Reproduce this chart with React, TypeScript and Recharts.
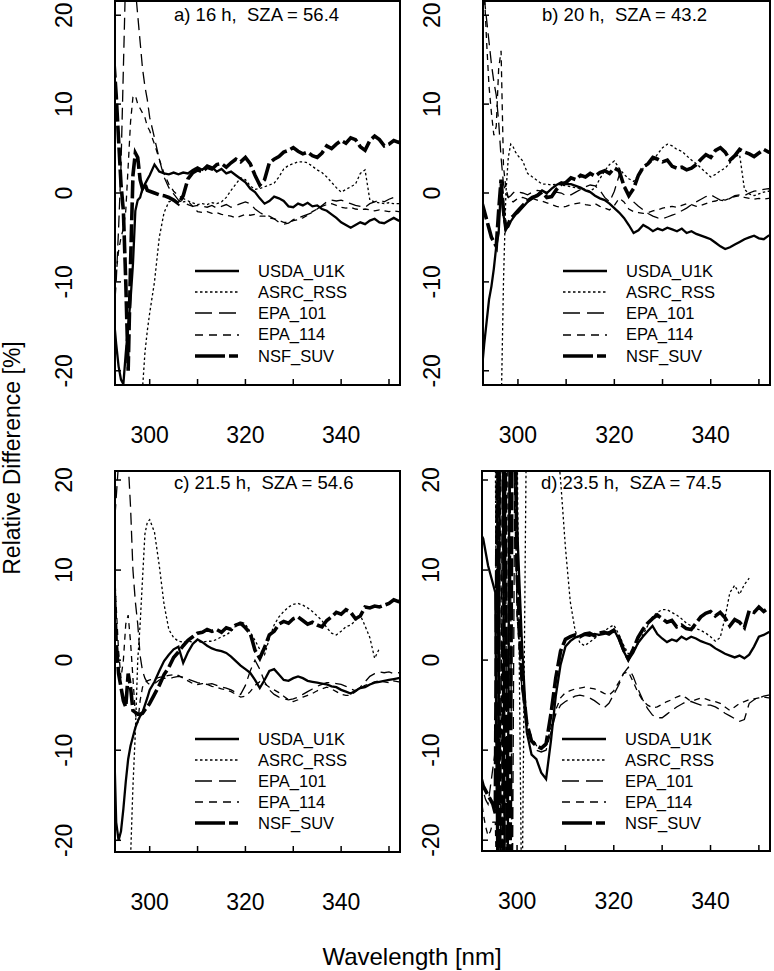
import React from "react";
import { LineChart, Line, XAxis, YAxis, ReferenceArea } from "recharts";

// wavelength grid [nm]
const wavelength = [
  292.5, 293, 293.5, 294, 294.5, 295, 295.5, 296, 296.5, 297, 297.5, 298, 298.5, 299, 299.5, 300,
  301, 302, 303, 304, 305, 306, 307, 308, 309, 310,
  311, 312, 313, 314, 315, 316, 317, 318, 319, 320,
  321, 322, 323, 324, 325, 326, 327, 328, 329, 330,
  331, 332, 333, 334, 335, 336, 337, 338, 339, 340,
  341, 342, 343, 344, 345, 346, 347, 348, 349, 350,
  351, 352, 353,
];

const xTicks = [300, 310, 320, 330, 340, 350];
const xLabels = [300, 320, 340];
const yTicks = [-20, -10, 0, 10, 20];

const seriesNames = ["USDA_U1K", "ASRC_RSS", "EPA_101", "EPA_114", "NSF_SUV"];

// a) 16 h
const aUsda = [
  -14, -17, -19.5, -21, -21.5, -18, -15, -12, -8, -2, -0.8, -0.5, 0.5, 1, 1.5, 2,
  3.2, 2.4, 2.2, 2.1, 2.3, 2.1, 2.3, 2.2, 2.6, 2.9,
  2.6, 3.1, 2.9, 2.4, 2.7, 2.2, 2.4, 2.0, 1.6, 1.2,
  0.5, 0.1, -0.6, -1.2, -0.9, -0.4, -0.6, -0.9, -1.5, -1.6,
  -1.2, -1.4, -1.1, -1.5, -1.4, -1.8, -2.0, -2.4, -2.8, -3.3,
  -3.6, -3.9, -3.6, -3.3, -3.5, -3.1, -2.9, -3.3, -3.4, -3.1,
  -2.8, -3.1, -3.2,
];
const aAsrc = [
  -40, -40, -40, -40, -40, -40, -40, -40, -40, -40, -40, -40, -22, -18, -15.5, -13.5,
  -10, -5, -2.2, -1, -0.8, -0.9, -1.0, -0.9, -1.1, -1.3,
  -1.2, -1.3, -1.1, -1.2, -1.0, -0.5, 0.3, 1.0, 1.7, 1.5,
  0.8, 0.4, 0.5, 0.7, 0.9, 1.1, 1.8, 2.7, 3.1, 3.3,
  3.5, 3.5, 3.4, 3.0, 2.6, 2.3, 1.8, 1.2, 0.6, 0.1,
  0.4, 0.7, 1.0, 2.2, 2.6, -0.8, -1.0, -1.1, -1.2, -1.1,
  -1.2, -1.2, -1.2,
];
const aEpa101 = [
  -14, -10, -4, 3, 14, 25, 30, 30, 28, 23, 20, 17, 14, 12, 10.5, 8.5,
  6.2, 3.8, 1.8, 0.6, -0.1, -0.8, -1.1, -1.3, -1.5, -1.4,
  -1.5, -1.6, -1.4, -1.7, -1.5, -1.3, -1.6, -1.4, -1.2, -1.0,
  -1.2, -1.8, -2.2, -2.5, -2.6, -2.9, -3.3, -3.5, -3.4, -3.0,
  -2.8, -2.6, -2.4, -2.2, -1.8, -1.4, -1.0, -0.8, -0.9, -0.8,
  -1.0, -1.2, -1.4, -1.5, -1.6, -1.2, -1.0, -0.8, -1.0, -0.7,
  -0.5, -0.6, -0.5,
];
const aEpa114 = [
  -12, -9, -6.5, -5, -4, -2, 3, 8, 10.8, 11, 10, 9.5, 9, 8.5, 7.5, 7,
  5.5, 3.8, 2.2, 1.0, 0.2, -0.3, -0.6, -0.9, -1.5, -2.1,
  -2.2, -2.1, -2.3, -2.2, -2.4, -2.5, -2.6, -2.8, -2.6, -2.4,
  -2.5, -2.4, -2.6, -2.6, -2.8, -2.9, -3.1, -3.3, -3.3, -3.1,
  -3.0, -2.8, -2.5, -2.1, -1.8, -1.5, -1.3, -1.2, -1.4, -1.6,
  -1.7, -1.6, -1.8, -1.9, -1.8, -1.9, -2.0, -1.9, -2.0, -2.1,
  -2.0, -2.1, -2.0,
];
const aNsf = [
  15, 11, 6, 1, -2, -10, -20, -8, 2, 4.5, 4, 1.5, 0.5, 1, 0.3, 0.2,
  0, -0.2, -0.3, -0.5, -0.8, -1.2, -0.3, 1.6, 2.3, 2.6,
  2.4, 2.9, 2.7, 3.2, 3.3, 2.9, 3.4, 3.8, 3.5, 4.0,
  3.3, 2.0, 0.9, 1.5, 3.4, 3.8, 4.1, 4.6, 4.8, 5.1,
  4.7, 4.4, 4.6, 4.2, 4.0, 4.5, 5.3, 5.0, 5.5, 5.9,
  5.6, 6.2, 6.0, 5.2, 4.8, 5.9, 6.4, 6.0, 5.3, 5.5,
  5.9, 5.7, 5.9,
];

// b) 20 h
const bUsda = [
  -20, -17, -14.5, -12, -10.5, -8.5, -6, -4.5, 1, -2.5, -4, -3.8, -3.2, -2.8, -2.4, -2.2,
  -1.6, -1.0, -0.6, -0.2, 0.3, 0.0, 0.5, 0.9, 1.2, 1.0,
  1.0, 0.8, 0.6, 0.3, 0.1, -0.3, -0.6, -0.8, -1.2, -1.7,
  -2.2, -2.8, -3.6, -4.5, -4.2, -3.6, -3.9, -4.3, -4.0, -4.2,
  -3.9, -4.1, -4.3, -4.0, -4.5, -4.3, -4.6, -4.8, -5.0, -5.2,
  -5.6, -6.0, -6.3, -6.1, -5.8, -5.5, -5.2, -5.0, -4.8, -5.1,
  -5.2, -4.8, -4.6,
];
const bAsrc = [
  -40, -40, -40, -40, -40, -40, -40, -40, -25, -10, 0, 4, 5.5, 5.2, 4.6, 4.2,
  3.6, 2.2, 1.8, 1.4, 1.0, 1.0, 0.9, 1.0, 0.9, 0.8,
  0.7, 0.6, 0.5, 0.4, 0.2, 0.6, 1.6, 2.5, 3.2, 3.6,
  2.8, 2.1, 1.6, 1.3, 2.0, 2.8, 3.2, 3.6, 4.4, 5.1,
  5.5, 5.3, 4.9, 4.7, 4.2, 3.7, 3.3, 2.8, 2.3, 1.8,
  2.1, 2.5, 2.8, 3.4, 4.1, 4.3, 0.4, -0.1, -0.3, -0.1,
  0.1, 0.2, 0.1,
];
const bEpa101 = [
  24, 22, 19.5, 17, 14.5, 12.5, 11, 8, 4, 1, 0, -0.5, -0.3, 0, 0.2, 0.1,
  0.0, -0.2, 0.1, 0.3, 0.2, -0.1, -0.2, 0.1, 0.0, -0.3,
  -0.2, 0.1, 0.4, 0.7, 0.9, 0.8, 0.3, -0.5, -1.0, 0.2,
  2.0, 1.0, -0.3, -1.0, -1.5, -1.9, -2.3, -2.6, -2.8, -2.9,
  -2.7, -2.5, -2.3, -2.0, -1.7, -1.3, -1.0, -0.7, -0.4, -0.2,
  -0.5, -0.8, -0.9, -0.6, -0.3, -0.2, -0.3, 0.0, 0.2, 0.3,
  0.4, 0.5, 0.4,
];
const bEpa114 = [
  28, 23, 17, 12, 9, 6.5, 7.5, 14, 16, 3, 0.5, -0.5, -0.8, -1.0, -0.8, -0.6,
  -0.5, -0.7, -0.6, -0.8, -0.9, -1.1, -1.3, -1.5, -1.6, -1.5,
  -1.3, -1.2, -1.1, -1.3, -1.4, -1.2, -1.5, -1.7, -1.9, -1.4,
  -0.6, -1.0, -1.8, -2.1, -2.2, -2.3, -2.2, -2.0, -1.9, -1.7,
  -1.6, -1.5, -1.6, -1.4, -1.2, -1.3, -1.5, -1.4, -1.2, -1.0,
  -0.9, -0.7, -0.8, -0.6, -0.4, -0.3, -0.5, -0.6, -0.7, -0.6,
  -0.7, -0.6, -0.6,
];
const bNsf = [
  -1, -2, -3, -4, -5, -5.5, -6, -2, 1.5, -2, -4, -3.5, -2.8, -2.6, -2.3, -2.0,
  -1.4, -0.9, -0.5, -0.3, 0.1, -0.5, -0.4, 0.4, 1.0, 1.2,
  1.7, 1.5, 2.0, 1.8, 2.2, 1.9, 2.3, 2.5, 2.2, 2.8,
  2.5, 0.8, -0.3, 0.5, 2.0, 2.9, 3.3, 4.0, 3.8, 3.5,
  3.7, 3.0, 2.8, 2.9, 2.6, 2.8, 3.2, 3.8, 4.3, 4.0,
  4.8, 5.1, 4.6, 3.7, 4.2, 4.9, 4.6, 4.4, 4.1, 4.5,
  4.9, 4.6, 4.5,
];

// c) 21.5 h
const cUsda = [
  -8, -18, -20, -19, -16.5, -13.5, -11, -9.5, -8.5, -7.5, -6.8, -6.2, -5.8, -5.0, -4.2, -3.3,
  -2.4, -1.2, -0.1, 0.6, 1.2, 1.5, -0.3, 0.9, 1.8, 2.3,
  2.0, 1.6, 1.3, 1.1, 1.0, 0.8, 0.4, -0.1, -0.6, -1.0,
  -1.4, -2.2, -3.1, -2.2, -1.2, -1.0, -1.6, -2.2, -2.3, -2.0,
  -1.8, -2.0, -2.3, -2.4, -2.5, -2.6, -2.7, -2.9, -3.0, -3.3,
  -3.5, -3.7, -3.4, -3.1, -3.0, -2.7, -2.5, -2.4, -2.3, -2.2,
  -2.1, -2.0, -2.0,
];
const cAsrc = [
  -40, -40, -40, -40, -40, -40, -40, -22, -14, -8, 0, 4, 9, 14, 15.3, 15.6,
  14.2, 10.5, 6.2, 3.4, 2.5, 2.1, 2.0, 2.1, 2.0, 2.1,
  2.0, 2.1, 2.1, 2.3, 2.6, 2.8, 3.2, 3.8, 4.3, 4.0,
  3.1, 2.2, 1.2, 0.6, 2.4, 3.9, 4.8, 5.4, 5.9, 6.2,
  6.3, 6.1, 5.8, 5.4, 4.9, 4.4, 3.6, 3.0, 2.8, 3.2,
  3.7, 3.9, 4.4, 5.0, 3.8, 2.5, 0.2, 1.3, null, null,
  null, null, null,
];
const cEpa101 = [
  14, 18, 22, 25, 25, 24, 22, 17, 10, 6.5, 4, 0.5, -1.2, -2.0, -2.5, -2.7,
  -2.6, -2.2, -2.0, -2.1, -1.9, -1.8, -1.9, -2.1, -2.3, -2.5,
  -2.6, -2.7, -2.6, -2.8, -3.0, -3.1, -3.3, -3.6, -3.8, -2.8,
  -1.2, 0.0, -1.0, -2.4, -3.3, -3.8, -4.1, -4.3, -4.4, -4.3,
  -4.1, -3.8, -3.5, -3.2, -2.9, -2.7, -2.5, -2.5, -2.6, -2.7,
  -2.9, -3.2, -3.4, -3.0, -2.4, -1.8, -1.5, -1.3, -1.4, -1.3,
  -1.5, -1.4, -1.3,
];
const cEpa114 = [
  12, 6, 1, -2, 0, 4, 5, 2, -2, -6, -7, -4.5, -3, -2.5, -2.3, -2.2,
  -2.1, -1.9, -1.8, -1.7, -1.6, -1.7, -2.0, -2.3, -2.6, -2.7,
  -2.6, -2.7, -2.9, -3.0, -3.2, -3.3, -3.5, -3.8, -4.1, -4.0,
  -3.5, -2.8, -2.4, -2.6, -3.0, -3.3, -3.6, -4.0, -4.4, -4.6,
  -4.4, -4.1, -3.9, -3.7, -3.4, -3.2, -3.0, -3.2, -3.5, -3.8,
  -3.9, -3.9, -3.5, -3.1, -2.8, -2.6, -2.4, -2.3, -2.4, -2.5,
  -2.3, -2.4, -2.3,
];
const cNsf = [
  9, 2, -1.5, -3, -4.5, -5.2, -1.5, -3, -5.6, -5.8, -6, -6, -5.9, -5.5, -5.2, -4.8,
  -3.8, -2.8, -1.6, -0.8, 0.3, 0.9, 1.6, 2.2, 2.6, 3.0,
  3.1, 3.4, 3.2, 3.4, 3.1, 3.6, 3.4, 3.9, 4.1, 3.6,
  3.0, 1.1, 0.2, 1.4, 2.8, 3.2, 4.0, 4.3, 4.1, 4.6,
  4.8, 4.4, 4.0, 4.2, 3.9, 3.7, 4.4, 4.8, 5.3, 5.1,
  5.6, 5.3, 4.6, 4.9, 5.9, 5.8, 6.0, 5.9, 6.1, 6.3,
  6.7, 6.5, 6.7,
];

// d) 23.5 h
const dUsda = [
  14, 13.5, 12, 10.5, 9.5, 8.5, 7.5, -30, 30, 30, -30, -30, 30, 30, 30, 15,
  2, -8, -10.5, -11, -12.5, -13.2, -9, -4, -0.5, 1.5,
  2.1, 2.5, 2.7, 2.8, 2.7, 2.9, 2.8, 2.9, 3.1, 3.4,
  2.4, 1.0, 0.0, 0.8, 1.9, 2.6, 3.2, 3.8, 2.9, 2.4,
  2.0, 2.3, 2.1, 2.6, 2.3, 2.6, 2.4, 2.1, 1.9, 1.7,
  1.3, 1.0, 0.7, 0.5, 0.3, 0.5, 0.2, 0.6, 1.5, 2.6,
  2.8, 3.1, 3.3,
];
const dAsrc = [
  25, 25, 25, 25, 25, 25, 25, -30, 25, 25, -30, -30, 25, 25, 25, 25,
  -30, 30, 30, 30, 30, 30, 30, 26, 20, 12.5,
  6.5, 3.3, 1.9, 1.6, 2.0, 2.4, 2.8, 3.2, 3.6, 3.9,
  2.9, 1.7, 0.7, 0.8, 1.8, 2.8, 3.8, 4.8, 5.3, 5.6,
  5.6, 5.3, 5.0, 4.6, 4.1, 3.8, 3.5, 3.3, 3.0, 2.6,
  2.1, 2.5, 4.7, 7.5, 8.3, 7.3, 8.4, 9.1, null, null,
  null, null, null,
];
const dEpa101 = [
  -13, -14.5, -15.5, -16, -14, -12, -10, 30, -30, 30, 30, -30, 30, -30, 20, 5,
  -3, -7.5, -9, -10, -10.2, -10, -8, -6, -5, -4.6,
  -4.3, -4.0, -3.9, -4.0, -4.2, -4.5, -4.9, -5.3, -4.8, -3.8,
  -2.8, -1.5, -0.8, -1.8, -3.2, -4.4, -5.4, -6.1, -6.4, -6.4,
  -6.0, -5.6, -5.2, -4.9, -4.6, -4.6, -4.8, -5.0, -5.0, -5.0,
  -5.2, -5.5, -5.9, -6.2, -6.5, -6.8, -6.6, -4.8, -4.4, -4.2,
  -4.0, -3.9, -3.8,
];
const dEpa114 = [
  -15, -17, -18.5, -19.5, -19, -18, -18, -30, 30, -30, 30, 30, -30, 30, 25, 5,
  -3, -7, -8.5, -9.5, -9.8, -9.5, -7.5, -5.5, -4.2, -3.6,
  -3.4, -3.2, -3.1, -3.0, -3.1, -3.2, -3.4, -3.7, -3.9, -3.4,
  -2.5, -1.5, -1.3, -2.4, -3.6, -4.5, -5.0, -5.3, -5.2, -4.9,
  -4.6, -4.4, -4.1, -3.9, -4.2, -4.6, -4.4, -4.2, -4.3, -4.5,
  -4.6, -4.8, -5.2, -5.6, -5.2, -4.8, -4.6, -4.4, -4.3, -4.2,
  -4.1, -4.2, -4.1,
];
const dNsf = [
  -13, -14, -14.5, -15, -15.5, -16, -17, 30, -30, -30, 30, -30, -30, 30, 30, 10,
  -2, -7, -9, -9.5, -9.8, -9.3, -6, -2, 1, 2.3,
  2.6, 2.8, 2.6, 2.9, 3.0, 2.7, 3.0, 3.1, 2.9, 3.3,
  2.6, 1.2, 0.1, 1.2, 2.5, 3.4, 4.1, 4.6, 5.0, 4.6,
  4.2, 4.4, 3.7, 3.9, 3.5, 3.4, 4.1, 4.8, 5.2, 5.4,
  4.9, 5.3, 4.7, 3.8, 4.5, 4.2, 3.6, 5.5, 5.3, 5.9,
  5.4, 5.8, 5.9,
];

const FONT = "'Liberation Sans', Arial, Helvetica, sans-serif";
const YW = 70; // y axis strip width
const MT = 20;
const MR = 4;
const XH = 65;

// line looks per instrument (order matches seriesNames)
const keys = ["usda", "asrc", "epa101", "epa114", "nsf"];
const widths = [2.3, 1.3, 1.3, 1.3, 3.6];
const dashes = [undefined, "2.5 2.5", "12 6", "6 5", "18 4"];
const legendDashes = [undefined, "2.5 2.5", "17 7", "8 6", "30 4 9"];

interface PanelProps {
  title: string;
  left: number;
  top: number;
  w: number;
  h: number;
  yDomain: [number, number];
  titleY: number;
  legendY: number[];
  series: (number | null)[][];
}

const xDomain: [number, number] = [292.75, 352.3];

function Panel({ title, left, top, w, h, yDomain, titleY, legendY, series }: PanelProps) {
  const rows = wavelength.map((wl, i) => {
    const r: Record<string, number | null> = { wl };
    keys.forEach((k, j) => (r[k] = series[j][i]));
    return r;
  });
  const plotBottom = MT + h;

  const YTick = (p: any) => {
    const cx = YW - 51;
    return (
      <g>
        <line x1={YW} x2={YW + 6} y1={p.y} y2={p.y} stroke="#000" strokeWidth={1.5} />
        <text
          x={cx}
          y={p.y}
          transform={`rotate(-90 ${cx} ${p.y})`}
          textAnchor="middle"
          dominantBaseline="central"
          fontSize={23}
          fontFamily={FONT}
          fill="#000"
        >
          {p.payload.value}
        </text>
      </g>
    );
  };

  const XTick = (p: any) => (
    <g>
      <line x1={p.x} x2={p.x} y1={plotBottom} y2={plotBottom - 6} stroke="#000" strokeWidth={1.5} />
      {xLabels.includes(p.payload.value) && (
        <text
          x={p.x}
          y={plotBottom + 50}
          textAnchor="middle"
          dominantBaseline="central"
          fontSize={23}
          fontFamily={FONT}
          fill="#000"
        >
          {p.payload.value}
        </text>
      )}
    </g>
  );

  return (
    <>
      <div style={{ position: "absolute", left: left - YW, top: top - MT }}>
        <LineChart
          width={YW + w + MR}
          height={MT + h + XH}
          data={rows}
          margin={{ top: MT, right: MR, bottom: 0, left: 0 }}
        >
          <XAxis
            type="number"
            dataKey="wl"
            domain={xDomain}
            allowDataOverflow
            ticks={xTicks}
            interval={0}
            height={XH}
            axisLine={false}
            tickLine={false}
            tick={XTick}
          />
          <YAxis
            type="number"
            domain={yDomain}
            allowDataOverflow
            ticks={yTicks}
            interval={0}
            width={YW}
            axisLine={false}
            tickLine={false}
            tick={YTick}
          />
          {keys.map((k, j) => (
            <Line
              key={k}
              dataKey={k}
              type="linear"
              stroke="#000"
              strokeWidth={widths[j]}
              strokeDasharray={dashes[j]}
              dot={false}
              activeDot={false}
              isAnimationActive={false}
            />
          ))}
          <ReferenceArea
            x1={xDomain[0]}
            x2={xDomain[1]}
            y1={yDomain[0]}
            y2={yDomain[1]}
            fill="none"
            stroke="#000"
            strokeWidth={2}
            ifOverflow="visible"
          />
        </LineChart>
      </div>
      <div
        style={{
          position: "absolute",
          left: left + 59,
          top: titleY - 15.7,
          fontSize: 18.5,
          lineHeight: "18.5px",
          whiteSpace: "pre",
          fontFamily: FONT,
        }}
      >
        {title}
      </div>
      {seriesNames.map((name, j) => (
        <div
          key={name}
          style={{
            position: "absolute",
            left: left + 80,
            top: legendY[j] - 10,
            height: 20,
            display: "flex",
            alignItems: "center",
            fontFamily: FONT,
            fontSize: 16.5,
            whiteSpace: "pre",
          }}
        >
          <svg width={44} height={8} style={{ display: "block" }}>
            <line
              x1={0}
              x2={44}
              y1={4}
              y2={4}
              stroke="#000"
              strokeWidth={j === 4 ? 3.6 : j === 0 ? 2.5 : 1.5}
              strokeDasharray={legendDashes[j]}
            />
          </svg>
          <span style={{ marginLeft: 19 }}>{name}</span>
        </div>
      ))}
    </>
  );
}

export default function App() {
  return (
    <div
      style={{
        position: "absolute",
        left: 0,
        top: 0,
        width: 774,
        height: 971,
        background: "#fff",
        overflow: "hidden",
        fontFamily: FONT,
      }}
    >
      <Panel
        title="a) 16 h,  SZA = 56.4"
        left={115}
        top={1}
        w={285}
        h={384}
        yDomain={[-21.6, 21.6]}
        titleY={22}
        legendY={[271, 292, 313, 334.5, 356]}
        series={[aUsda, aAsrc, aEpa101, aEpa114, aNsf]}
      />
      <Panel
        title="b) 20 h,  SZA = 43.2"
        left={483}
        top={1}
        w={287}
        h={384}
        yDomain={[-21.6, 21.6]}
        titleY={22}
        legendY={[271, 292, 313, 334.5, 356]}
        series={[bUsda, bAsrc, bEpa101, bEpa114, bNsf]}
      />
      <Panel
        title="c) 21.5 h,  SZA = 54.6"
        left={115}
        top={471}
        w={285}
        h={381}
        yDomain={[-21.3, 21.0]}
        titleY={490}
        legendY={[739, 760, 781, 802, 823]}
        series={[cUsda, cAsrc, cEpa101, cEpa114, cNsf]}
      />
      <Panel
        title="d) 23.5 h,  SZA = 74.5"
        left={482}
        top={471}
        w={288}
        h={380}
        yDomain={[-21.2, 21.0]}
        titleY={490}
        legendY={[739, 760, 781, 802, 823]}
        series={[dUsda, dAsrc, dEpa101, dEpa114, dNsf]}
      />
      <svg
        width={774}
        height={971}
        style={{ position: "absolute", left: 0, top: 0, pointerEvents: "none" }}
      >
        <text
          x={20}
          y={458}
          transform="rotate(-90 20 458)"
          textAnchor="middle"
          fontSize={23}
          fontFamily={FONT}
          fill="#000"
        >
          Relative Difference [%]
        </text>
        <text x={412} y={965} textAnchor="middle" fontSize={24} fontFamily={FONT} fill="#000">
          Wavelength [nm]
        </text>
      </svg>
    </div>
  );
}
